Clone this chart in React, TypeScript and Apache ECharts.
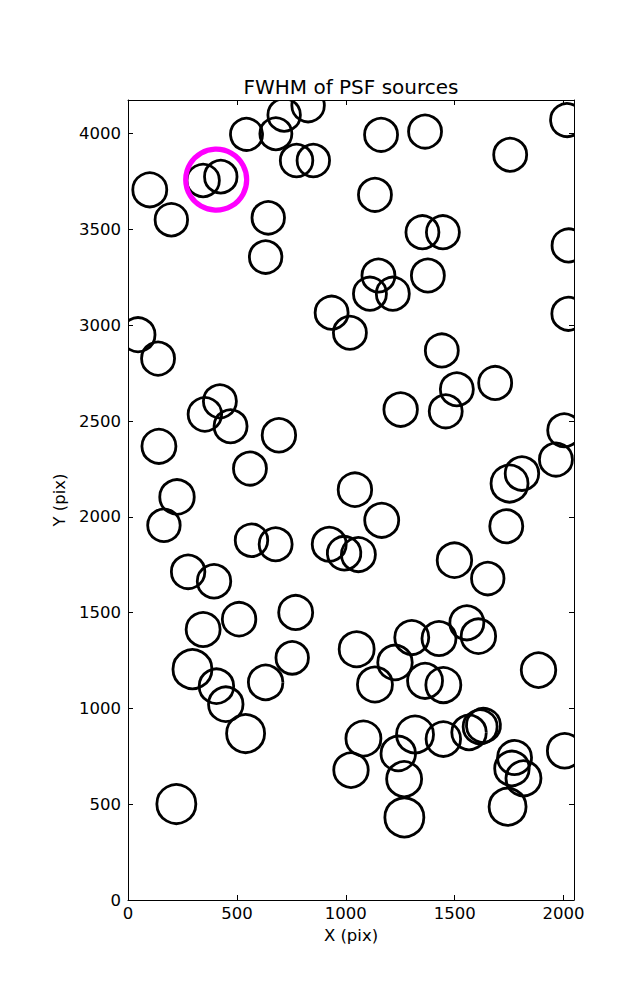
import React, { useEffect, useRef } from "react";
import * as echarts from "echarts";

// Source centres (image pixels) and FWHM (pixels)
const srcX = [
  717, 827, 679, 544, 774, 851, 345, 426, 100, 199, 644, 632, 1162, 1364, 1755, 2016,
  1134, 1352, 1446, 2023, 1150, 1377, 1111, 1216, 46, 138, 422, 353, 471, 693, 142, 560,
  225, 935, 1019, 1441, 1510, 1686, 1252, 1459, 2022, 2003, 1965, 1809, 1752, 1042, 165, 567,
  678, 924, 992, 276, 395, 510, 770, 345, 296, 406, 754, 632, 449, 1165, 1737, 1058,
  1499, 1652, 1556, 1609, 1303, 1428, 1050, 1226, 1885, 1134, 1364, 1448, 540, 222, 1081, 1024,
  1241, 1318, 1268, 1269, 1448, 1566, 1617, 1632, 1775, 1763, 1816, 1743, 2005,
];
const srcY = [
  4098, 4147, 4000, 4003, 3860, 3860, 3756, 3776, 3707, 3551, 3561, 3356, 3994, 4011, 3890, 4078,
  3681, 3486, 3486, 3417, 3260, 3260, 3165, 3165, 2951, 2826, 2603, 2535, 2473, 2426, 2368, 2252,
  2104, 3066, 2961, 2869, 2666, 2699, 2560, 2551, 3060, 2452, 2299, 2226, 2174, 2142, 1956, 1878,
  1857, 1857, 1817, 1713, 1664, 1466, 1501, 1412, 1205, 1116, 1264, 1136, 1022, 1982, 1951, 1803,
  1774, 1678, 1447, 1377, 1370, 1365, 1309, 1240, 1200, 1125, 1144, 1122, 869, 501, 843, 678,
  765, 864, 631, 431, 840, 875, 904, 918, 744, 687, 635, 487, 779,
];
const srcFwhm = [
  3.25, 3.25, 3.2, 3.2, 3.25, 3.25, 3.25, 3.25, 3.4, 3.25, 3.25, 3.25, 3.3, 3.3, 3.3, 3.3,
  3.3, 3.3, 3.3, 3.3, 3.3, 3.3, 3.3, 3.3, 3.4, 3.3, 3.3, 3.35, 3.3, 3.35, 3.4, 3.3,
  3.45, 3.3, 3.3, 3.3, 3.3, 3.3, 3.35, 3.3, 3.3, 3.3, 3.3, 3.35, 3.7, 3.35, 3.25, 3.25,
  3.3, 3.4, 3.35, 3.35, 3.35, 3.35, 3.4, 3.4, 3.9, 3.45, 3.25, 3.45, 3.45, 3.4, 3.3, 3.4,
  3.45, 3.25, 3.4, 3.45, 3.4, 3.4, 3.5, 3.45, 3.45, 3.5, 3.5, 3.5, 3.8, 3.9, 3.5, 3.45,
  3.45, 3.7, 3.5, 3.9, 3.45, 3.45, 3.4, 3.4, 3.4, 3.45, 3.5, 3.7, 3.45,
];

// Highlighted source
const highlightX = [405];
const highlightY = [3760];

const xTickStep = 500;
const yTickStep = 500;
const xMax = 2048;
const yMax = 4176;

const FONT = "DejaVu Sans";
const RADIUS_PER_FWHM = 5;

export default function App() {
  const ref = useRef<HTMLDivElement>(null);
  useEffect(() => {
    if (!ref.current) return;
    const chart = echarts.init(ref.current, undefined, { renderer: "svg" });
    const tickFmt = (step: number) => (v: number) => (v % step === 0 ? String(v) : "");
    const axisCommon = {
      axisLine: { show: true, onZero: false, lineStyle: { color: "#000", width: 1 } },
      axisTick: { show: true, inside: true, length: 5, lineStyle: { color: "#000", width: 1 } },
      splitLine: { show: false },
    };
    chart.setOption({
      animation: false,
      backgroundColor: "#fff",
      graphic: [
        {
          type: "text",
          x: 351,
          y: 77,
          style: {
            text: "FWHM of PSF sources",
            font: `20px '${FONT}'`,
            fill: "#000",
            textAlign: "center",
            textVerticalAlign: "top",
          },
        },
      ],
      grid: { left: 128, top: 100, width: 446, height: 800, containLabel: false },
      xAxis: [
        {
          type: "value",
          position: "bottom",
          min: 0,
          max: xMax,
          interval: xTickStep,
          name: "X (pix)",
          nameLocation: "middle",
          nameGap: 24,
          nameTextStyle: { fontFamily: FONT, fontSize: 16.5, color: "#000" },
          axisLabel: { fontFamily: FONT, fontSize: 16.5, color: "#000", margin: 5, formatter: tickFmt(xTickStep) },
          ...axisCommon,
        },
        {
          type: "value",
          position: "top",
          min: 0,
          max: xMax,
          interval: xTickStep,
          axisLabel: { show: false },
          ...axisCommon,
        },
      ],
      yAxis: [
        {
          type: "value",
          position: "left",
          min: 0,
          max: yMax,
          interval: yTickStep,
          name: "Y (pix)",
          nameLocation: "middle",
          nameGap: 52,
          nameTextStyle: { fontFamily: FONT, fontSize: 16.5, color: "#000" },
          axisLabel: { fontFamily: FONT, fontSize: 16.5, color: "#000", margin: 7, formatter: tickFmt(yTickStep) },
          ...axisCommon,
        },
        {
          type: "value",
          position: "right",
          min: 0,
          max: yMax,
          interval: yTickStep,
          axisLabel: { show: false },
          ...axisCommon,
        },
      ],
      series: [
        {
          type: "custom",
          xAxisIndex: 0,
          yAxisIndex: 0,
          clip: true,
          silent: true,
          encode: { x: 0, y: 1 },
          data: srcX.map((x, i) => [x, srcY[i], srcFwhm[i]]),
          renderItem: (_params: any, api: any) => {
            const p = api.coord([api.value(0), api.value(1)]);
            return {
              type: "circle",
              shape: { cx: p[0], cy: p[1], r: api.value(2) * RADIUS_PER_FWHM },
              style: { fill: "none", stroke: "#000", lineWidth: 2.8 },
            };
          },
        },
        {
          type: "custom",
          xAxisIndex: 0,
          yAxisIndex: 0,
          clip: true,
          silent: true,
          encode: { x: 0, y: 1 },
          data: highlightX.map((x, i) => [x, highlightY[i]]),
          renderItem: (_params: any, api: any) => {
            const p = api.coord([api.value(0), api.value(1)]);
            return {
              type: "circle",
              shape: { cx: p[0], cy: p[1], r: 30.5 },
              style: { fill: "none", stroke: "#ff00ff", lineWidth: 5.2 },
            };
          },
        },
      ],
    });
    return () => chart.dispose();
  }, []);
  return (
    <div
      ref={ref}
      style={{ position: "absolute", left: 0, top: 0, width: 637, height: 1000, background: "#fff" }}
    />
  );
}
